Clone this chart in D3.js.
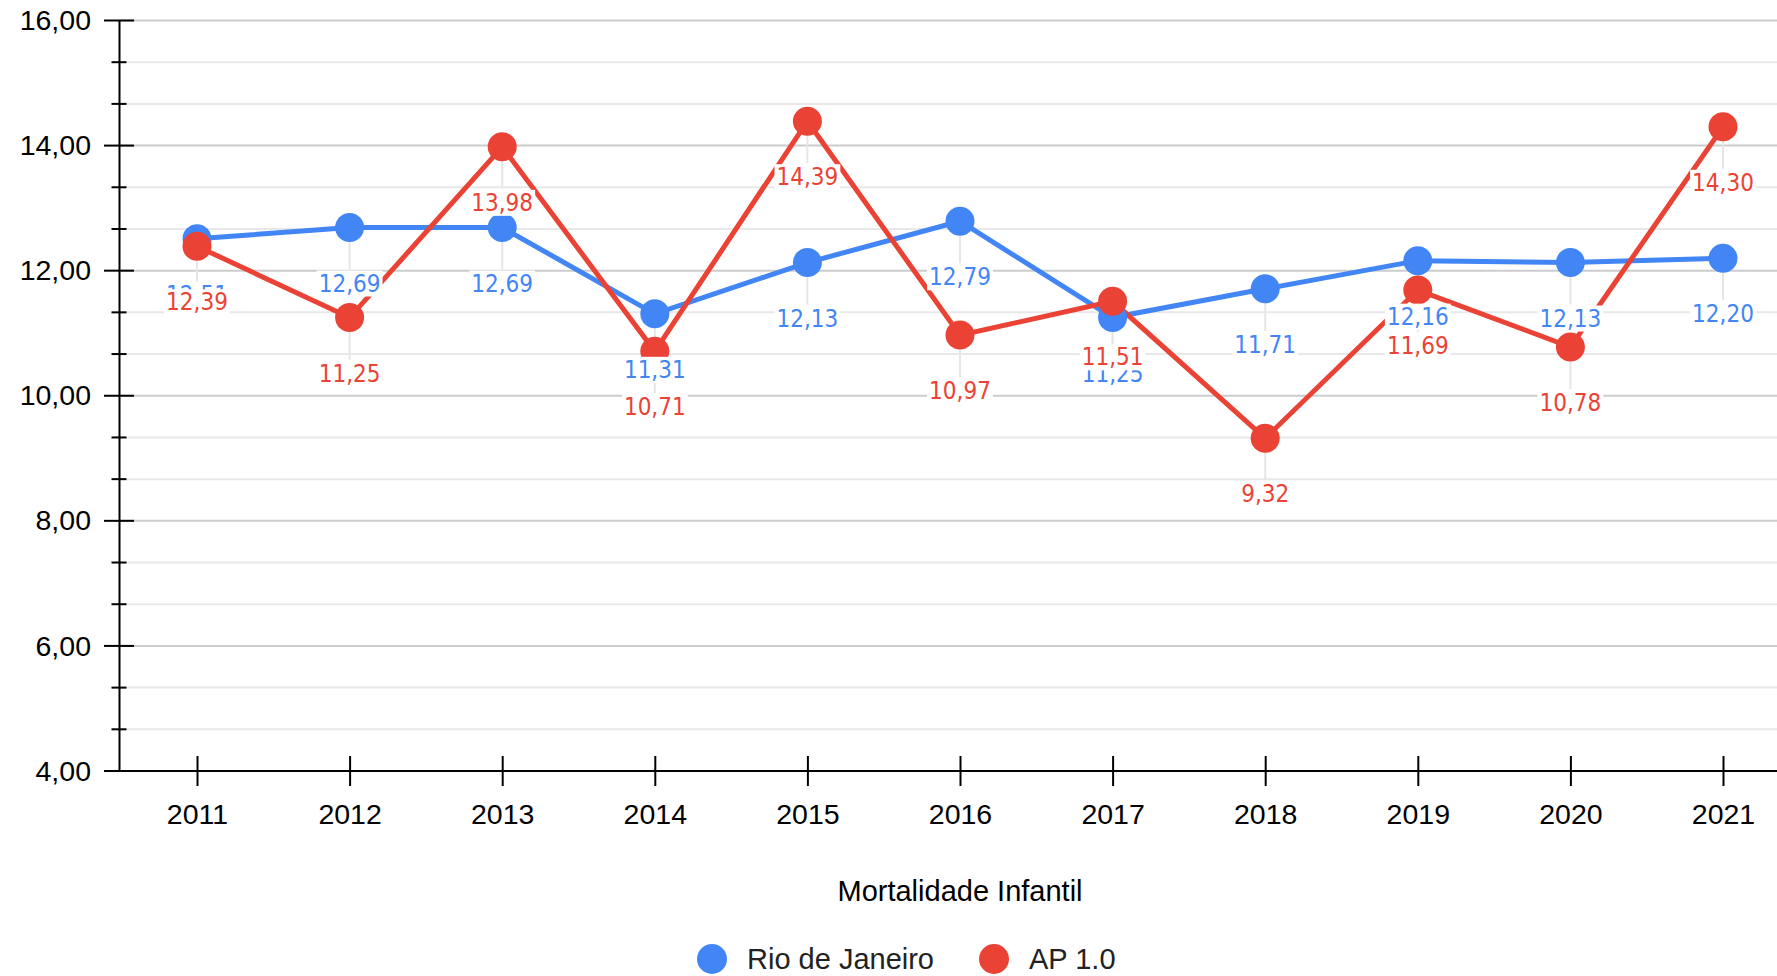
<!DOCTYPE html>
<html>
<head>
<meta charset="utf-8">
<script src="https://cdn.jsdelivr.net/npm/d3@7"></script>
<style>
  body { margin: 0; background: #fff; }
  svg { display: block; }
</style>
</head>
<body>
<div id="container"></div>
<script>
const width = 1777;
const height = 976;

const years = [2011, 2012, 2013, 2014, 2015, 2016, 2017, 2018, 2019, 2020, 2021];
const rioValues = [12.51, 12.69, 12.69, 11.31, 12.13, 12.79, 11.25, 11.71, 12.16, 12.13, 12.20];
const apValues = [12.39, 11.25, 13.98, 10.71, 14.39, 10.97, 11.51, 9.32, 11.69, 10.78, 14.30];
const seriesNames = ["Rio de Janeiro", "AP 1.0"];
const seriesColors = ["#4285f4", "#ea4335"];
const yTicks = [4, 6, 8, 10, 12, 14, 16];
const axisTitle = "Mortalidade Infantil";

const axisX = 119;
const x = d3.scalePoint().domain(years).range([197, 1723]);
const y = d3.scaleLinear().domain([4, 16]).range([771, 20.5]);

const fmt = v => d3.format(".2f")(v).replace(".", ",");

const svg = d3.select("#container")
  .append("svg")
  .attr("width", width)
  .attr("height", height);

// minor grid (every 2/3 unit)
const minor = d3.range(0, 19).map(i => 4 + i * 2 / 3).filter(v => Math.abs(v - Math.round(v / 2) * 2) > 0.01);
svg.append("g").selectAll("line")
  .data(minor)
  .enter().append("line")
  .attr("x1", axisX).attr("x2", width)
  .attr("y1", d => y(d)).attr("y2", d => y(d))
  .attr("stroke", "#e8e8e8").attr("stroke-width", 2);

svg.append("g").selectAll("line")
  .data(yTicks.slice(1))
  .enter().append("line")
  .attr("x1", axisX).attr("x2", width)
  .attr("y1", d => y(d)).attr("y2", d => y(d))
  .attr("stroke", "#cccccc").attr("stroke-width", 2);

// y axis
const yAxis = d3.axisLeft(y).tickValues(yTicks).tickSize(0).tickPadding(28).tickFormat(fmt);
const gy = svg.append("g").attr("transform", `translate(${axisX},0)`).call(yAxis);
gy.select(".domain").attr("stroke", "#000").attr("stroke-width", 2);
gy.selectAll("text").attr("font-family", "'Liberation Sans', Arial, sans-serif").attr("font-size", 28.5).attr("fill", "#000");
svg.append("g").selectAll("line")
  .data(yTicks)
  .enter().append("line")
  .attr("x1", axisX - 15).attr("x2", axisX + 15)
  .attr("y1", d => y(d)).attr("y2", d => y(d))
  .attr("stroke", "#000").attr("stroke-width", 2);
svg.append("g").selectAll("line")
  .data(minor)
  .enter().append("line")
  .attr("x1", axisX - 7.5).attr("x2", axisX + 7.5)
  .attr("y1", d => y(d)).attr("y2", d => y(d))
  .attr("stroke", "#000").attr("stroke-width", 2);

// x axis
const xAxis = d3.axisBottom(x).tickSize(15).tickPadding(18);
const gx = svg.append("g").attr("transform", `translate(0,${y(4)})`).call(xAxis);
gx.select(".domain").attr("d", `M${axisX},0H${width}`).attr("stroke", "#000").attr("stroke-width", 2);
gx.selectAll(".tick line").attr("y1", -15).attr("stroke", "#000").attr("stroke-width", 2);
gx.selectAll("text").attr("font-family", "'Liberation Sans', Arial, sans-serif").attr("font-size", 28.5).attr("fill", "#000");

const series = [
  { name: seriesNames[0], color: seriesColors[0], values: rioValues },
  { name: seriesNames[1], color: seriesColors[1], values: apValues }
];

// leader lines
series.forEach(s => {
  svg.append("g").selectAll("line")
    .data(s.values)
    .enter().append("line")
    .attr("x1", (d, i) => x(years[i])).attr("x2", (d, i) => x(years[i]))
    .attr("y1", d => y(d)).attr("y2", d => y(d) + 42)
    .attr("stroke", "#e6e6e6").attr("stroke-width", 2);
});

const line = d3.line().x((d, i) => x(years[i])).y(d => y(d));
series.forEach(s => {
  svg.append("path")
    .datum(s.values)
    .attr("d", line)
    .attr("fill", "none")
    .attr("stroke", s.color)
    .attr("stroke-width", 5);
});
series.forEach(s => {
  svg.append("g").selectAll("circle")
    .data(s.values)
    .enter().append("circle")
    .attr("cx", (d, i) => x(years[i]))
    .attr("cy", d => y(d))
    .attr("r", 14.5)
    .attr("fill", s.color);
});

// data labels with white background
series.forEach(s => {
  const g = svg.append("g");
  s.values.forEach((d, i) => {
    const lg = g.append("g");
    const t = lg.append("text")
      .attr("x", x(years[i]))
      .attr("y", y(d) + 56)
      .attr("text-anchor", "middle")
      .attr("dominant-baseline", "central")
      .attr("font-family", "'DejaVu Sans Condensed', 'DejaVu Sans', sans-serif")
      .attr("font-size", 24)
      .attr("fill", s.color)
      .text(fmt(d));
    const b = t.node().getBBox();
    lg.insert("rect", "text")
      .attr("x", b.x - 2).attr("y", b.y + 1)
      .attr("width", b.width + 4).attr("height", b.height - 2)
      .attr("fill", "#fff");
  });
});

// axis title
svg.append("text")
  .attr("x", 960).attr("y", 891)
  .attr("text-anchor", "middle")
  .attr("dominant-baseline", "central")
  .attr("font-family", "'Liberation Sans', Arial, sans-serif")
  .attr("font-size", 29)
  .attr("fill", "#000")
  .text(axisTitle);

// legend
const legendX = [712, 994];
series.forEach((s, i) => {
  svg.append("circle")
    .attr("cx", legendX[i]).attr("cy", 959).attr("r", 15)
    .attr("fill", s.color);
  svg.append("text")
    .attr("x", legendX[i] + 35).attr("y", 959)
    .attr("dominant-baseline", "central")
    .attr("font-family", "'Liberation Sans', Arial, sans-serif")
    .attr("font-size", 29)
    .attr("fill", "#222")
    .text(s.name);
});
</script>
</body>
</html>
